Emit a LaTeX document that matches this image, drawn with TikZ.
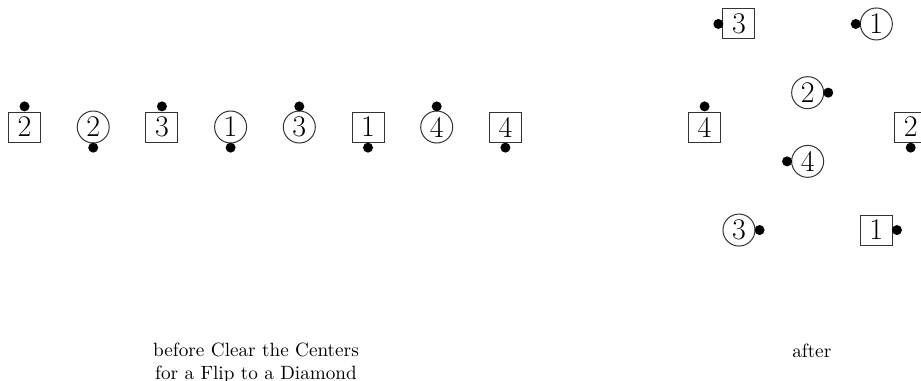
\documentclass[tikz,border=0pt]{standalone}
\usepackage{tikz}
\tikzset{
  dancer/.style={draw=black!80,line width=0.5pt,inner sep=0pt,font=\fontsize{15}{15}\selectfont},
  boy/.style={dancer,rectangle,minimum width=16pt,minimum height=15pt},
  girl/.style={dancer,circle,minimum size=16pt},
  nose/.style={fill=black},
  caption/.style={align=center,font=\fontsize{9.6}{11.5}\selectfont},
}
\begin{document}
\begin{tikzpicture}[x=34.35pt,y=34.35pt]
\useasboundingbox (-0.357,-3.697) rectangle (13.05,1.849);
% before: one line of eight
\foreach \x/\kind/\num/\face in {0/boy/2/90,1/girl/2/-90,2/boy/3/90,3/girl/1/-90,
    4/girl/3/90,5/boy/1/-90,6/girl/4/90,7/boy/4/-90}{
  \node[\kind] (L\x) at (\x,0) {\num};
  \fill[nose] (L\x.center) ++(\face:0.3) circle (2.5pt);
}
% after: the diamond
\coordinate (mid) at (11.4,0);
\foreach \i/\kind/\num/\px/\py/\face in {1/boy/3/-1/1.5/180,2/girl/1/1/1.5/180,
    3/girl/2/0/0.5/0,4/boy/4/-1.5/0/90,5/boy/2/1.5/0/-90,6/girl/4/0/-0.5/180,
    7/girl/3/-1/-1.5/0,8/boy/1/1/-1.5/0}{
  \node[\kind] (R\i) at ([shift={(\px,\py)}]mid) {\num};
  \fill[nose] (R\i.center) ++(\face:0.3) circle (2.5pt);
}
\node[caption] (before) at (3.37,-3.44) {before Clear the Centers\\for a Flip to a Diamond};
\node[caption] (after) at (11.46,-3.26) {after};
\end{tikzpicture}
\end{document}
